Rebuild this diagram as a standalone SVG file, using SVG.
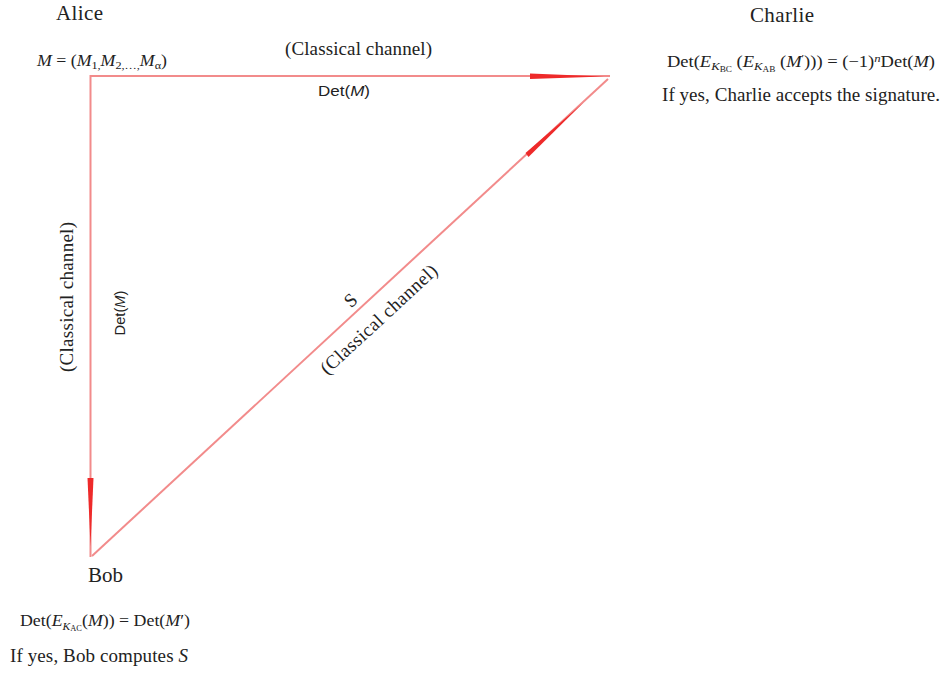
<svg xmlns="http://www.w3.org/2000/svg" width="941" height="673" viewBox="0 0 941 673">
<style>
.lbl{font-family:"Liberation Serif","Times New Roman",serif;fill:#222}
.name{font-size:21px}
.ch{font-size:19px}
.math{font-family:"Liberation Serif","Times New Roman",serif;fill:#222;font-size:16px}
.it{font-style:italic}
.sans{font-family:"Liberation Sans",Arial,sans-serif;fill:#222;font-size:14px}
.line{stroke:#f28b8b;stroke-width:2;fill:none}
.wedge{fill:#ee2a2a}
</style>
<rect width="941" height="673" fill="#fff"/>
<g id="connectors">
  <line class="line" x1="90" y1="76" x2="610" y2="76"/>
  <polygon class="wedge" points="530,73.5 530,79 604,76.5"/>
  <line class="line" x1="90.5" y1="75" x2="90.5" y2="557"/>
  <polygon class="wedge" points="87.5,478 93.5,478 90.5,546"/>
  <line class="line" x1="92" y1="556" x2="608" y2="79"/>
  <polygon class="wedge" points="525.5,153 528.5,157 583,103"/>
</g>
<g id="alice">
  <text class="lbl name" x="56" y="20" textLength="47">Alice</text>
  <text class="math" x="37" y="66" textLength="130" lengthAdjust="spacingAndGlyphs"><tspan class="it">M</tspan> = (<tspan class="it">M</tspan><tspan font-size="11" dy="3">1,</tspan><tspan class="it" dy="-3">M</tspan><tspan font-size="11" dy="3">2,…,</tspan><tspan class="it" dy="-3">M</tspan><tspan font-size="11" dy="3">α</tspan><tspan dy="-3">)</tspan></text>
</g>
<g id="charlie">
  <text class="lbl name" x="750" y="22" textLength="64">Charlie</text>
  <text class="math" x="667" y="67" textLength="268" lengthAdjust="spacingAndGlyphs">Det(<tspan class="it">E</tspan><tspan class="it" font-size="11" dy="3">K</tspan><tspan font-size="8" dy="2">BC</tspan><tspan dy="-5"> (</tspan><tspan class="it">E</tspan><tspan class="it" font-size="11" dy="3">K</tspan><tspan font-size="8" dy="2">AB</tspan><tspan dy="-5"> (</tspan><tspan class="it">M</tspan><tspan font-size="10" dy="-5">′</tspan><tspan dy="5">))) = (−1)</tspan><tspan class="it" font-size="11" dy="-5">n</tspan><tspan dy="5">Det(</tspan><tspan class="it">M</tspan>)</text>
  <text class="lbl ch" x="662" y="101" textLength="278">If yes, Charlie accepts the signature.</text>
</g>
<g id="bob">
  <text class="lbl name" x="88" y="582" textLength="35">Bob</text>
  <text class="lbl" font-size="17" x="20" y="626" textLength="170" lengthAdjust="spacingAndGlyphs">Det(<tspan class="it">E</tspan><tspan class="it" font-size="11" dy="4">K</tspan><tspan font-size="8" dy="1">AC</tspan><tspan dy="-5">(</tspan><tspan class="it">M</tspan>)) = Det(<tspan class="it">M</tspan>′)</text>
  <text class="lbl ch" x="10" y="662" textLength="178">If yes, Bob computes <tspan class="it">S</tspan></text>
</g>
<g id="labels">
  <text class="lbl ch" x="285" y="55" textLength="147">(Classical channel)</text>
  <text class="sans" x="318" y="96" textLength="52" lengthAdjust="spacingAndGlyphs">Det(<tspan class="it">M</tspan>)</text>
  <text class="lbl ch" transform="translate(73,297) rotate(-90)" text-anchor="middle" textLength="150">(Classical channel)</text>
  <text class="sans" transform="translate(125,313) rotate(-90)" text-anchor="middle" textLength="45" lengthAdjust="spacingAndGlyphs">Det(<tspan class="it">M</tspan>)</text>
  <text class="lbl" font-size="19" transform="translate(355,305) rotate(-42.7)" text-anchor="middle">S</text>
  <text class="lbl ch" transform="translate(383,324) rotate(-42.7)" text-anchor="middle" textLength="152">(Classical channel)</text>
</g>
</svg>
